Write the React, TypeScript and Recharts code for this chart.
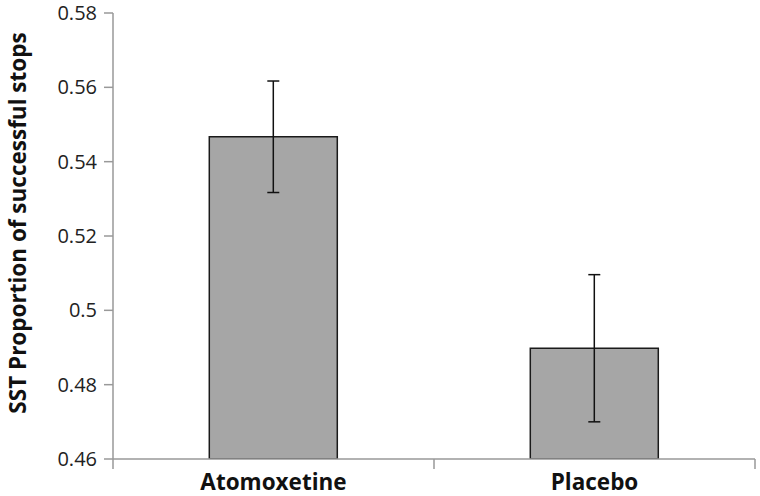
import React from 'react';
import { BarChart, Bar, XAxis, YAxis, ErrorBar } from 'recharts';

const categories = ['Atomoxetine', 'Placebo'];
const means = [0.5467, 0.4898];
const errors = [0.015, 0.0198];
const yTicks = [0.46, 0.48, 0.5, 0.52, 0.54, 0.56, 0.58];
const boundaryTicks = [0, 1, 2];
const yLabel = 'SST Proportion of successful stops';

const data = categories.map((c, i) => ({ name: c, value: means[i], err: errors[i], pos: i + 0.5 }));

const FONT = '"Open Sans", Lato, sans-serif';
const AXIS = '#999999';

const YLabel = (props: any) => {
  const vb = props.viewBox || {};
  const cx = (vb.x ?? 0) + 17;
  const cy = (vb.y ?? 0) + (vb.height ?? 0) / 2 - 13;
  return (
    <text
      x={cx}
      y={cy}
      transform={`rotate(-90 ${cx} ${cy})`}
      textAnchor="middle"
      dominantBaseline="central"
      fontFamily={FONT}
      fontWeight={700}
      fontSize={22.5}
      fill="#111"
    >
      {yLabel}
    </text>
  );
};

export default function App() {
  return (
    <div style={{ position: 'absolute', left: 0, top: 0, background: '#fff' }}>
      <BarChart
        width={760}
        height={496}
        data={data}
        margin={{ top: 13, right: 5, bottom: 0, left: 0 }}
        barCategoryGap="30%"
      >
        <XAxis
          xAxisId="bound"
          type="number"
          dataKey="pos"
          domain={[0, 2]}
          allowDataOverflow
          ticks={boundaryTicks}
          interval={0}
          tickFormatter={() => ''}
          tickLine={{ stroke: AXIS, strokeWidth: 1.5 }}
          tickSize={10}
          axisLine={{ stroke: AXIS, strokeWidth: 1.5 }}
          height={10}
        />
        <XAxis
          dataKey="name"
          xAxisId="cat"
          tickLine={false}
          axisLine={false}
          tick={{ fontFamily: FONT, fontWeight: 700, fontSize: 22.5, fill: '#111' }}
          tickSize={0}
          tickMargin={5}
          height={27}
        />
        <YAxis
          domain={[0.46, 0.58]}
          ticks={yTicks}
          interval={0}
          width={113}
          tick={{ fontFamily: FONT, fontSize: 20, fill: '#222' }}
          tickLine={{ stroke: AXIS, strokeWidth: 1.5 }}
          tickSize={9}
          tickMargin={7}
          axisLine={{ stroke: AXIS, strokeWidth: 1.5 }}
          label={<YLabel />}
          allowDataOverflow
        />
        <Bar
          dataKey="value"
          xAxisId="cat"
          fill="#a6a6a6"
          stroke="#1a1a1a"
          strokeWidth={1.5}
          isAnimationActive={false}
        >
          <ErrorBar dataKey="err" width={6} stroke="#111" strokeWidth={1.5} direction="y" />
        </Bar>
      </BarChart>
    </div>
  );
}
